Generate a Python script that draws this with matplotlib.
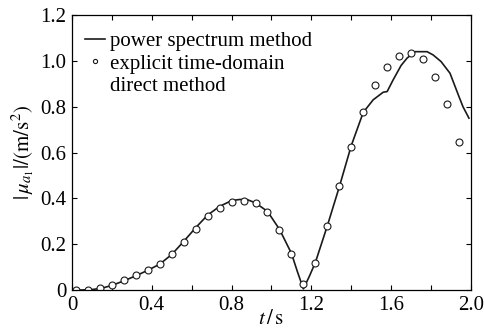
import numpy as np
import matplotlib
matplotlib.use("Agg")
import matplotlib.pyplot as plt
from matplotlib.ticker import MultipleLocator, FuncFormatter

plt.rcParams['font.family'] = ['Liberation Serif', 'DejaVu Serif']
plt.rcParams['mathtext.fontset'] = 'stix'

# power spectrum method (solid line)
t_line = [0.0, 0.05, 0.1, 0.15, 0.2, 0.26, 0.32, 0.38, 0.44, 0.5, 0.56, 0.62,
          0.68, 0.74, 0.8, 0.84, 0.88, 0.92, 0.98, 1.04, 1.1, 1.13, 1.16, 1.19,
          1.22, 1.25, 1.28, 1.34, 1.4, 1.46, 1.51, 1.56, 1.58, 1.61, 1.65, 1.68,
          1.72, 1.78, 1.81, 1.85, 1.895, 1.94, 1.96, 1.99]
y_line = [0.0, 0.0, 0.002, 0.008, 0.02, 0.04, 0.062, 0.086, 0.113, 0.155, 0.212, 0.272,
          0.327, 0.365, 0.39, 0.395, 0.394, 0.38, 0.343, 0.265, 0.16, 0.08, 0.005, 0.06,
          0.12, 0.2, 0.28, 0.45, 0.63, 0.775, 0.83, 0.863, 0.866, 0.917, 0.98, 1.012,
          1.04, 1.04, 1.026, 0.997, 0.946, 0.844, 0.80, 0.75]

# explicit time-domain direct method (circles)
t_pts = [0.02, 0.08, 0.14, 0.2, 0.26, 0.32, 0.38, 0.44, 0.5, 0.56, 0.62, 0.68,
         0.74, 0.8, 0.86, 0.92, 0.98, 1.04, 1.1, 1.16, 1.22, 1.28, 1.34, 1.4,
         1.46, 1.52, 1.58, 1.64, 1.7, 1.76, 1.82, 1.88, 1.94]
y_pts = [0.0, 0.0, 0.007, 0.02, 0.042, 0.064, 0.087, 0.112, 0.156, 0.21, 0.268, 0.322,
         0.36, 0.384, 0.39, 0.379, 0.34, 0.261, 0.156, 0.025, 0.117, 0.28, 0.454, 0.624,
         0.776, 0.894, 0.972, 1.02, 1.035, 1.006, 0.931, 0.81, 0.648]

fig = plt.figure(figsize=(4.85, 3.32), dpi=100)
ax = fig.add_axes([0.1485, 0.1265, 0.8225, 0.8283])

ax.plot(t_line, y_line, color='#1a1a1a', lw=1.2, label='power spectrum method')
ax.plot(t_pts, y_pts, 'o', ms=5, mfc='white', mec='#1a1a1a', mew=0.8,
        label='explicit time-domain')
ax.plot([], [], ' ', label='direct method')  # second line of the legend entry

ax.set_xlim(0, 2.0)
ax.set_ylim(0, 1.2)
ax.xaxis.set_major_locator(MultipleLocator(0.2))
ax.yaxis.set_major_locator(MultipleLocator(0.2))

def xfmt(v, pos):
    k = int(round(v / 0.2))
    if k % 2:
        return ''
    return '0' if k == 0 else '%.1f' % v

def yfmt(v, pos):
    return '0' if abs(v) < 1e-9 else '%.1f' % v

ax.xaxis.set_major_formatter(FuncFormatter(xfmt))
ax.yaxis.set_major_formatter(FuncFormatter(yfmt))
ax.tick_params(direction='in', length=3.5, width=0.8, top=True, right=True,
               labelsize=15, pad=4)
for s in ax.spines.values():
    s.set_linewidth(0.9)

ax.set_xlabel(r'$t\,/\,\mathrm{s}$', fontsize=15, labelpad=-3)
ax.set_ylabel(r'$|\,\mu_{a_1}|/(\mathrm{m/s^2})$', fontsize=15, labelpad=3)

leg = ax.legend(loc='upper left', bbox_to_anchor=(0, 0.985), frameon=False,
                fontsize=15, handlelength=1.0, handletextpad=0.2,
                borderaxespad=0.3, labelspacing=0.14, markerscale=0.6,
                borderpad=0.3)

fig.savefig('out.png', dpi=100)
